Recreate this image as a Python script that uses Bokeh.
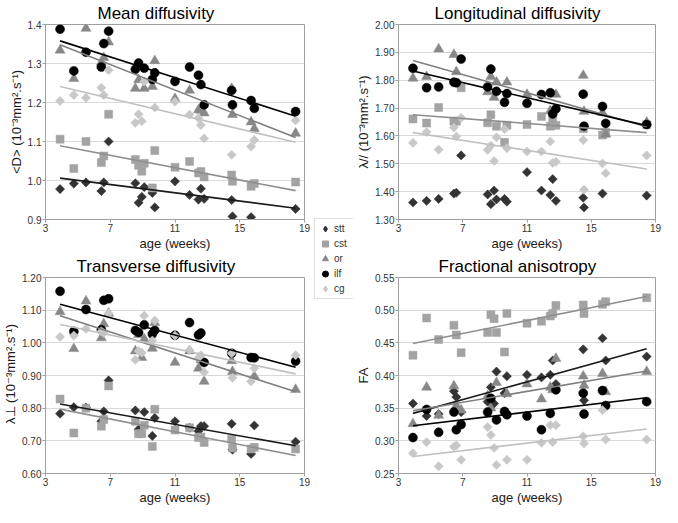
import numpy as np
from bokeh.plotting import figure
from bokeh.models import Range1d, FixedTicker, PrintfTickFormatter, Legend, LegendItem, ColumnDataSource
from bokeh.layouts import row, column
from bokeh.embed import file_html
from bokeh.resources import INLINE

nan = float("nan")

# ---------------- data ----------------
ages = [3.9, 4.75, 5.5, 6.45, 6.6, 6.9, 8.55, 8.75, 8.95, 9.1, 9.6, 9.75,
        11.0, 11.9, 12.45, 12.6, 12.8, 14.5, 14.55, 15.7, 15.9, 18.45]
x_ticks = [3, 7, 11, 15, 19]
series_names = ["stt", "cst", "or", "ilf", "cg"]

# Mean diffusivity
md_ticks = [0.9, 1.0, 1.1, 1.2, 1.3, 1.4]
md_stt = [0.978, 0.992, 0.995, 0.973, 0.995, 1.100, 0.993, 0.943, 0.958, 0.983, 0.968, 0.931,
          0.998, 0.963, 0.951, 0.979, 0.953, 0.950, 0.908, 0.906, nan, 0.927]
md_cst = [1.106, 1.031, 1.100, 1.046, 1.063, 1.170, 1.054, 1.039, 1.024, 1.044, 0.981, 1.077,
          1.034, 1.049, 1.019, 1.023, 1.009, 1.014, 0.998, 0.985, 0.992, 0.996]
md_or = [1.334, 1.261, 1.390, 1.303, 1.315, 1.355, 1.236, 1.258, nan, 1.236, 1.241, 1.307,
         1.210, 1.231, 1.181, 1.180, 1.173, 1.236, 1.169, 1.150, 1.133, 1.121]
md_ilf = [1.388, 1.281, 1.329, 1.291, 1.351, 1.383, 1.285, 1.301, nan, 1.288, 1.259, 1.276,
          1.254, 1.291, 1.270, 1.246, 1.194, 1.231, 1.194, 1.205, 1.185, 1.177]
md_cg = [1.204, 1.219, 1.212, 1.238, 1.219, 1.283, 1.148, 1.170, 1.152, 1.254, nan, 1.187,
         1.202, 1.169, 1.160, 1.142, 1.108, 1.066, nan, 1.087, 1.104, 1.154]
md_trend_start = [1.006, 1.089, 1.348, 1.358, 1.241]
md_trend_end = [0.929, 0.974, 1.110, 1.165, 1.098]

# Longitudinal diffusivity
ld_ticks = [1.3, 1.4, 1.5, 1.6, 1.7, 1.8, 1.9, 2.0]
ld_stt = [1.361, 1.367, 1.374, 1.393, 1.396, 1.530, 1.390, 1.355, 1.404, 1.372, 1.374, 1.364,
          1.470, 1.404, 1.388, 1.445, 1.367, 1.378, 1.343, 1.393, nan, 1.386]
ld_cst = [1.661, 1.646, 1.702, 1.653, 1.653, 1.773, 1.647, 1.676, nan, 1.635, 1.577, 1.638,
          1.641, 1.670, 1.635, 1.656, 1.638, 1.626, nan, 1.603, 1.612, 1.640]
ld_or = [1.807, 1.813, 1.912, 1.892, 1.830, nan, 1.758, 1.813, 1.738, 1.793, nan, 1.793,
         1.749, nan, 1.690, nan, 1.749, 1.817, 1.688, 1.684, 1.606, 1.649]
ld_ilf = [1.843, 1.773, 1.776, 1.793, 1.791, 1.876, 1.776, 1.840, nan, 1.760, 1.721, 1.752,
          1.717, 1.749, 1.755, 1.679, 1.697, 1.750, 1.635, 1.706, 1.645, 1.641]
ld_cg = [1.575, 1.614, 1.551, 1.630, 1.598, 1.665, 1.550, 1.565, 1.510, 1.595, 1.624, 1.556,
         1.544, 1.544, 1.580, 1.503, 1.507, 1.585, 1.407, 1.501, 1.466, 1.530]
ld_trend_start = [None, 1.676, 1.871, 1.833, 1.612]
ld_trend_end = [None, 1.612, 1.633, 1.637, 1.481]

# Transverse diffusivity
td_ticks = [0.6, 0.7, 0.8, 0.9, 1.0, 1.1, 1.2]
td_stt = [0.783, 0.803, 0.802, 0.760, 0.790, 0.885, 0.793, 0.735, nan, 0.788, 0.715, 0.770,
          0.760, 0.740, 0.730, 0.745, 0.745, 0.752, 0.673, 0.660, 0.747, 0.697]
td_cst = [0.828, 0.724, 0.800, 0.745, 0.765, 0.868, 0.760, 0.722, 0.722, 0.748, 0.683, 0.797,
          0.733, 0.740, 0.710, 0.712, 0.695, 0.705, 0.678, 0.675, 0.680, 0.675]
td_or = [1.095, 0.982, 1.128, 1.015, 1.058, 1.090, 0.975, 1.025, 0.955, 1.012, 0.983, 1.062,
         0.940, 0.975, 0.922, 0.948, 0.882, 0.945, 0.912, nan, 0.898, 0.857]
td_ilf = [1.158, 1.035, 1.102, 1.040, 1.130, 1.135, 1.038, 1.032, nan, 1.055, 1.027, 1.038,
          1.023, 1.062, 1.024, 1.030, 0.940, 0.968, nan, 0.955, 0.954, 0.944]
td_cg = [1.018, 1.022, 1.043, 1.035, 1.030, 1.090, 0.948, 0.975, 0.970, 1.083, 1.007, 1.068,
         1.022, 0.978, 0.955, 0.962, 0.910, 0.968, 0.893, 0.882, 0.922, 0.962]
td_trend_start = [0.813, 0.797, 1.083, 1.118, 1.056]
td_trend_end = [0.685, 0.655, 0.850, 0.925, 0.905]

# Fractional anisotropy
fa_ticks = [0.25, 0.30, 0.35, 0.40, 0.45, 0.50, 0.55]
fa_stt = [0.357, 0.338, 0.341, 0.376, 0.367, 0.344, 0.360, 0.382, 0.357, 0.406, 0.373, 0.399,
          0.401, 0.397, 0.401, 0.423, 0.387, 0.440, 0.362, 0.457, 0.423, 0.429]
fa_cst = [0.431, 0.488, 0.455, 0.477, 0.462, 0.435, 0.466, 0.493, 0.487, 0.466, 0.436, 0.495,
          0.480, 0.483, 0.491, 0.495, 0.507, 0.508, 0.495, 0.509, 0.513, 0.519]
fa_or = [0.326, 0.382, 0.339, 0.384, 0.354, 0.347, 0.369, 0.350, nan, 0.389, nan, 0.372,
         0.387, 0.364, 0.382, 0.378, 0.426, 0.399, 0.385, 0.403, 0.375, 0.406]
fa_ilf = [0.305, 0.348, 0.313, 0.344, 0.317, 0.325, 0.344, 0.365, nan, 0.332, 0.345, 0.340,
          0.338, 0.317, 0.342, nan, 0.378, 0.373, 0.341, 0.377, 0.354, 0.360]
fa_cg = [0.281, 0.298, 0.261, 0.291, 0.293, 0.271, 0.321, 0.309, 0.289, 0.263, nan, 0.271,
         0.271, 0.297, 0.324, 0.298, 0.324, 0.307, 0.296, 0.347, 0.302, 0.302]
fa_trend_start = [0.342, 0.449, 0.346, 0.323, 0.276]
fa_trend_end = [0.441, 0.521, 0.407, 0.366, 0.318]

# ---------------- styles ----------------
FONT = "Liberation Sans"
STYLE = {
    "stt": dict(marker="square", angle=np.pi / 4, size=6.5, color="#333333", line="#1a1a1a", leg="diamond"),
    "cst": dict(marker="square", angle=0.0, size=8, color="#a3a3a3", line="#8f8f8f", leg="square"),
    "or": dict(marker="triangle", angle=0.0, size=10, color="#888888", line="#7f7f7f", leg="triangle"),
    "ilf": dict(marker="circle", angle=0.0, size=9, color="#000000", line="#000000", leg="circle"),
    "cg": dict(marker="square", angle=np.pi / 4, size=6.5, color="#c8c8c8", line="#c0c0c0", leg="diamond"),
}

panels = {
    "md": dict(title="Mean diffusivity", ylabel="<D> (10⁻³mm².s⁻¹)", yr=(0.9, 1.4), ticks=md_ticks,
               fmt="%.1f", vals=[md_stt, md_cst, md_or, md_ilf, md_cg],
               ts=md_trend_start, te=md_trend_end, offset=52),
    "ld": dict(title="Longitudinal diffusivity", ylabel="λ// (10⁻³mm².s⁻¹)", yr=(1.3, 2.0), ticks=ld_ticks,
               fmt="%.2f", vals=[ld_stt, ld_cst, ld_or, ld_ilf, ld_cg],
               ts=ld_trend_start, te=ld_trend_end, offset=36),
    "td": dict(title="Transverse diffusivity", ylabel="λ⊥ (10⁻³mm².s⁻¹)", yr=(0.6, 1.2), ticks=td_ticks,
               fmt="%.2f", vals=[td_stt, td_cst, td_or, td_ilf, td_cg],
               ts=td_trend_start, te=td_trend_end, offset=31),
    "fa": dict(title="Fractional anisotropy", ylabel="FA", yr=(0.25, 0.55), ticks=fa_ticks,
               fmt="%.2f", vals=[fa_stt, fa_cst, fa_or, fa_ilf, fa_cg],
               ts=fa_trend_start, te=fa_trend_end, offset=40),
}


def make_panel(d, width, height, bl, br):
    p = figure(width=width, height=height, x_range=Range1d(3, 19), y_range=Range1d(*d["yr"]),
               output_backend="svg", toolbar_location=None,
               min_border_left=bl, min_border_right=br, min_border_top=0, min_border_bottom=0)
    p.title.text = d["title"]
    p.title.align = "left"
    p.title.offset = d["offset"]
    p.title.text_font = FONT
    p.title.text_font_size = "17px"
    p.title.text_font_style = "normal"
    p.title.text_color = "#000000"
    p.title.standoff = 3
    p.xaxis.ticker = FixedTicker(ticks=x_ticks)
    p.yaxis.ticker = FixedTicker(ticks=d["ticks"])
    p.yaxis.formatter = PrintfTickFormatter(format=d["fmt"])
    p.xaxis.axis_label = "age (weeks)"
    p.yaxis.axis_label = d["ylabel"]
    for ax in (p.xaxis[0], p.yaxis[0]):
        ax.axis_line_color = "#a0a0a0"
        ax.major_tick_line_color = "#a0a0a0"
        ax.major_tick_out = 3
        ax.major_tick_in = 0
        ax.minor_tick_line_color = None
        ax.major_label_text_font = FONT
        ax.major_label_text_font_size = "10px"
        ax.major_label_text_color = "#333333"
        ax.major_label_standoff = 1
        ax.axis_label_text_font = FONT
        ax.axis_label_text_font_size = "13px"
        ax.axis_label_text_font_style = "normal"
        ax.axis_label_text_color = "#1a1a1a"
        ax.axis_label_standoff = 1
    p.xgrid.visible = False
    p.ygrid.grid_line_color = "#d9d9d9"
    p.outline_line_color = "#a0a0a0"
    p.background_fill_color = "white"
    p.border_fill_color = "white"

    xs = np.array(ages, dtype=float)
    for name, v in zip(series_names, d["vals"]):
        s = STYLE[name]
        src = ColumnDataSource(dict(x=xs, y=np.array(v, dtype=float)))
        p.scatter("x", "y", source=src, marker=s["marker"], angle=s["angle"], size=s["size"],
                  fill_color=s["color"], line_color=s["color"], line_width=0.5)
    x0, x1 = min(ages), max(ages)
    for name, a, b in zip(series_names, d["ts"], d["te"]):
        if a is None:
            continue
        p.line([x0, x1], [a, b], line_color=STYLE[name]["line"], line_width=1.6)
    return p


LW, GW, RW = 311, 42, 309
TH, BH = 253, 254

p_md = make_panel(panels["md"], LW, TH, 38, 7)
p_td = make_panel(panels["td"], LW, BH, 38, 7)
p_ld = make_panel(panels["ld"], RW, TH, 38, 7)
p_fa = make_panel(panels["fa"], RW, BH, 38, 7)

# legend figure between the two columns
LEG_H = TH + BH
leg = figure(width=GW, height=LEG_H, x_range=Range1d(0, 1), y_range=Range1d(0, 1),
             output_backend="svg", toolbar_location=None, x_axis_type=None, y_axis_type=None,
             min_border=0)
leg.outline_line_color = None
leg.xgrid.visible = False
leg.ygrid.visible = False
items = []
for name in series_names:
    s = STYLE[name]
    src = ColumnDataSource(dict(x=[nan], y=[nan]))
    r = leg.scatter("x", "y", source=src, marker=s["leg"], size=s["size"],
                    fill_color=s["color"], line_color=s["color"])
    items.append(LegendItem(label=name, renderers=[r]))
box_h = 5 * 15 + 2 * 2
legend = Legend(items=items, location=(3, LEG_H - 220 - box_h), orientation="vertical",
                label_text_font=FONT, label_text_font_size="10px", label_text_color="#333333",
                glyph_height=15, glyph_width=16, label_height=15, label_standoff=1,
                spacing=0, padding=2, margin=0, border_line_color="#bfbfbf",
                background_fill_color="white", background_fill_alpha=1.0)
leg.add_layout(legend, "center")

layout = row(column(p_md, p_td), leg, column(p_ld, p_fa))

open("out.html", "w").write(file_html(layout, INLINE))
